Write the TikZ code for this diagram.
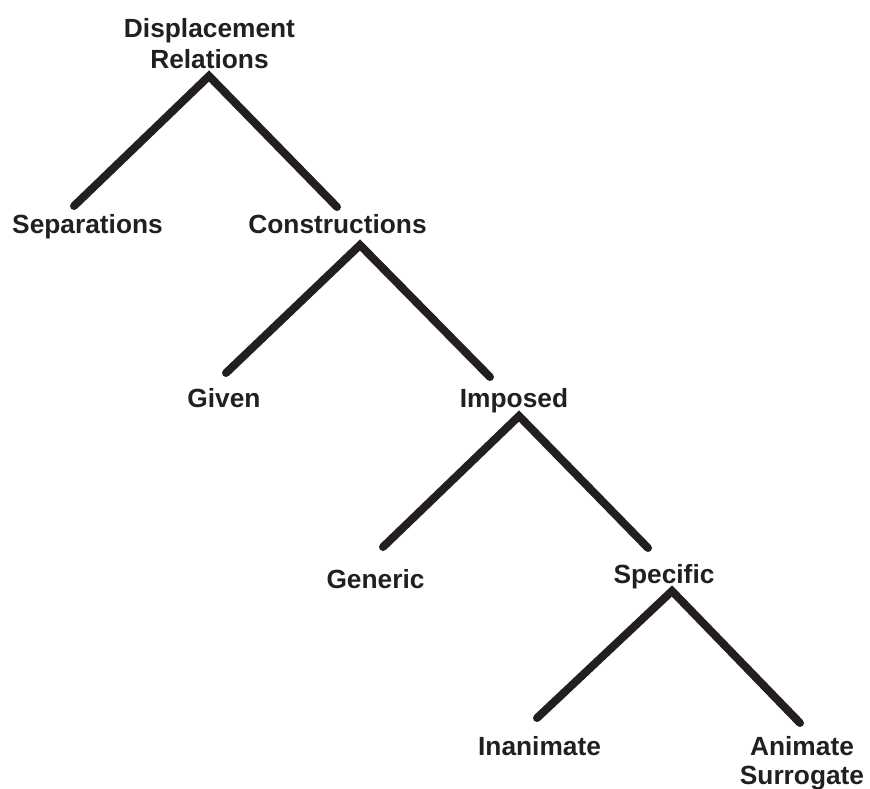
\documentclass[tikz,border=0pt]{standalone}
\usepackage{fontspec}
\setmainfont{Liberation Sans}
\definecolor{ink}{RGB}{35,31,32}
\begin{document}
\begin{tikzpicture}[x=1pt,y=-1pt,
  lbl/.style={font=\bfseries\fontsize{26.3}{30}\selectfont, text=ink, inner sep=0pt, anchor=base},
  lbltwo/.style={font=\bfseries\fontsize{26.3}{31}\selectfont, text=ink, inner sep=0pt, anchor=north, align=center},
  branch/.style={draw=ink, line width=8pt, line cap=round, line join=miter}]
\useasboundingbox (0,0) rectangle (870,789);
% labels
\node[lbltwo] (root) at (209.5,18) {Displacement\\Relations};
\node[lbl] (sep) at (87.5,233) {Separations};
\node[lbl] (con) at (337.5,233) {Constructions};
\node[lbl] (giv) at (224,407) {Given};
\node[lbl] (imp) at (514,407) {Imposed};
\node[lbl] (gen) at (375.5,588) {Generic};
\node[lbl] (spe) at (664,583) {Specific};
\node[lbl] (ina) at (539.5,755) {Inanimate};
\node[lbltwo, font=\bfseries\fontsize{26.3}{28.5}\selectfont] (ani) at (802,736.5) {Animate\\Surrogate};
% branch points
\coordinate (a1) at (209,76);
\coordinate (l1) at (74,206);
\coordinate (r1) at (337,207);
\coordinate (a2) at (360,245);
\coordinate (l2) at (226,373);
\coordinate (r2) at (490,377);
\coordinate (a3) at (519,416);
\coordinate (l3) at (383,547);
\coordinate (r3) at (648,548);
\coordinate (a4) at (672,591);
\coordinate (l4) at (537,718);
\coordinate (r4) at (800,723);
\draw[branch] (l1) -- (a1) -- (r1);
\draw[branch] (l2) -- (a2) -- (r2);
\draw[branch] (l3) -- (a3) -- (r3);
\draw[branch] (l4) -- (a4) -- (r4);
\end{tikzpicture}
\end{document}
